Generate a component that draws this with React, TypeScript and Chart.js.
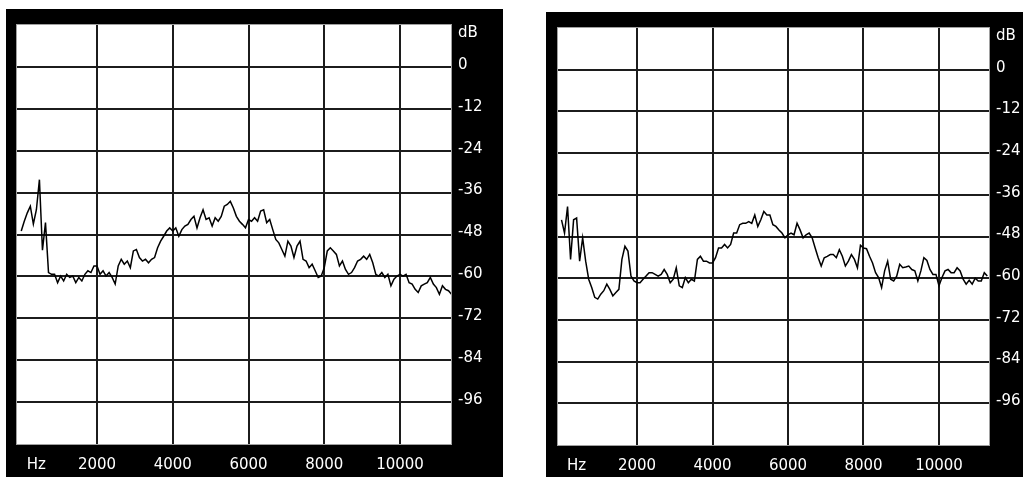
import React, { useEffect, useRef } from 'react';
import { Chart, registerables } from 'chart.js';

Chart.register(...registerables);

// Frequency step between spectrum samples (Hz)
const FREQ_STEP = 80;

// Left spectrum (dB), one value per FREQ_STEP starting at 0 Hz
const leftDb = [
  -47.0, -44.2, -41.8, -39.9, -45.0, -40.9, -32.3, -52.5, -44.6, -58.9,
  -59.4, -59.4, -61.8, -59.9, -61.3, -59.4, -60.3, -59.9, -61.8, -60.3,
  -61.3, -59.4, -58.4, -58.9, -57.0, -57.0, -59.4, -58.4, -59.9, -58.9,
  -60.3, -62.2, -57.0, -55.1, -56.5, -55.6, -57.5, -52.7, -52.3, -54.6,
  -55.6, -55.1, -56.1, -55.1, -54.6, -51.8, -49.9, -48.5, -47.0, -46.1,
  -47.0, -46.1, -48.5, -46.6, -45.6, -45.1, -43.7, -42.8, -46.1, -43.2,
  -40.9, -43.7, -43.2, -45.6, -43.2, -44.2, -42.8, -39.9, -39.4, -38.5,
  -40.4, -42.8, -44.2, -45.1, -46.1, -43.7, -44.2, -43.2, -44.2, -41.3,
  -40.9, -44.6, -43.7, -46.6, -49.4, -50.4, -52.3, -54.2, -49.9, -51.3,
  -54.6, -51.3, -49.9, -55.1, -55.6, -57.5, -56.5, -58.4, -60.3, -59.9,
  -57.5, -52.7, -51.8, -52.7, -53.7, -57.0, -55.6, -58.0, -59.4, -58.9,
  -57.5, -55.6, -55.1, -54.2, -55.1, -53.7, -56.1, -59.4, -59.9, -58.9,
  -60.3, -59.4, -62.7, -60.8, -59.9, -59.4, -59.9, -59.4, -61.8, -62.2,
  -63.7, -64.6, -62.7, -62.2, -61.8, -60.3, -62.2, -63.2, -65.1, -62.7,
  -63.7, -64.1, -65.1,
];

// Right spectrum (dB), one value per FREQ_STEP starting at 0 Hz
const rightDb = [
  -43.2, -47.0, -39.4, -54.6, -43.2, -42.7, -55.1, -48.4, -55.1, -60.3,
  -62.7, -65.5, -66.0, -64.6, -63.6, -61.7, -63.2, -65.1, -64.1, -63.2,
  -54.6, -50.8, -52.2, -59.4, -60.8, -61.3, -61.3, -60.3, -59.4, -58.4,
  -58.4, -58.9, -59.4, -58.9, -57.5, -58.9, -61.3, -60.3, -57.0, -62.2,
  -62.7, -59.8, -61.3, -60.3, -60.8, -54.6, -53.7, -55.1, -55.1, -55.6,
  -55.6, -54.1, -51.3, -51.3, -50.3, -51.3, -50.3, -47.0, -47.0, -44.6,
  -44.2, -44.2, -43.7, -44.2, -41.8, -45.1, -43.2, -40.8, -41.8, -41.8,
  -44.6, -45.1, -46.1, -47.0, -48.4, -47.5, -47.0, -47.5, -44.2, -46.1,
  -48.4, -47.5, -47.0, -48.4, -51.3, -54.1, -56.5, -54.1, -53.7, -53.2,
  -53.2, -54.1, -51.8, -53.7, -56.5, -55.1, -53.2, -54.6, -57.0, -50.5,
  -51.3, -51.5, -53.7, -55.6, -58.4, -59.8, -62.7, -57.9, -55.1, -60.3,
  -60.8, -59.4, -56.0, -57.0, -56.8, -56.5, -57.5, -57.9, -60.8, -57.9,
  -54.1, -54.9, -57.5, -58.9, -58.9, -62.2, -59.8, -57.9, -57.5, -58.4,
  -58.4, -57.0, -57.9, -60.3, -61.7, -60.6, -61.7, -60.0, -60.8, -60.8,
  -58.4, -59.4,
];

// Axis ticks
const xTickValues = [400, 2000, 4000, 6000, 8000, 10000];
const xTickLabels = ['Hz', '2000', '4000', '6000', '8000', '10000'];
const yTickValues = [9, 0, -12, -24, -36, -48, -60, -72, -84, -96];
const yTickLabels = ['dB', '0', '-12', '-24', '-36', '-48', '-60', '-72', '-84', '-96'];
const unitTickValues = [400, 9];

const Y_MIN = -108;
const Y_MAX = 12;

const panelBg = {
  id: 'panelBg',
  beforeDraw(chart: any) {
    const { ctx, chartArea: a, width, height } = chart;
    ctx.save();
    ctx.fillStyle = '#000';
    ctx.fillRect(0, 0, width, height);
    ctx.fillStyle = '#fff';
    ctx.fillRect(a.left, a.top, a.right - a.left, a.bottom - a.top);
    ctx.strokeStyle = '#a0a0a0';
    ctx.lineWidth = 1;
    ctx.strokeRect(a.left - 0.5, a.top - 0.5, a.right - a.left + 1, a.bottom - a.top + 1);
    ctx.restore();
  },
};

type PanelProps = {
  db: number[];
  xMin: number;
  xMax: number;
  left: number;
  top: number;
  width: number;
  height: number;
  padLeft: number;
  padTop: number;
  xAxisH: number;
};

function gridColor(c: any) {
  return c.tick && unitTickValues.includes(c.tick.value) ? 'rgba(0,0,0,0)' : '#1c1c1c';
}

function Panel(p: PanelProps) {
  const ref = useRef<HTMLCanvasElement | null>(null);
  useEffect(() => {
    if (!ref.current) return;
    const font = { family: 'DejaVu Sans', size: 15 };
    const chart = new Chart(ref.current, {
      type: 'line',
      data: {
        datasets: [
          {
            data: p.db.map((v, i) => ({ x: i * FREQ_STEP, y: v })),
            borderColor: '#000',
            borderWidth: 1.5,
            pointRadius: 0,
            tension: 0,
            fill: false,
          },
        ],
      },
      plugins: [panelBg],
      options: {
        responsive: false,
        animation: false,
        devicePixelRatio: 1,
        layout: { padding: { left: p.padLeft, top: p.padTop, right: 0, bottom: 0 } },
        plugins: { legend: { display: false }, tooltip: { enabled: false } },
        scales: {
          x: {
            type: 'linear',
            position: 'bottom',
            min: p.xMin,
            max: p.xMax,
            afterBuildTicks: (s: any) => {
              s.ticks = xTickValues.map((v) => ({ value: v }));
            },
            afterFit: (s: any) => {
              s.height = p.xAxisH;
            },
            grid: { color: gridColor, lineWidth: 2, drawTicks: false },
            border: { display: false },
            ticks: {
              autoSkip: false,
              maxRotation: 0,
              minRotation: 0,
              padding: 12,
              color: '#fff',
              font,
              callback: (_v: any, i: number) => xTickLabels[i],
            },
          },
          y: {
            type: 'linear',
            position: 'right',
            min: Y_MIN,
            max: Y_MAX,
            afterBuildTicks: (s: any) => {
              s.ticks = yTickValues.map((v) => ({ value: v }));
            },
            afterFit: (s: any) => {
              s.width = 52;
            },
            grid: { color: gridColor, lineWidth: 2, drawTicks: false },
            border: { display: false },
            ticks: {
              autoSkip: false,
              padding: 7,
              labelOffset: -2,
              color: '#fff',
              font,
              callback: (_v: any, i: number) => yTickLabels[i],
            },
          },
        },
      } as any,
    });
    return () => chart.destroy();
  }, []);
  return (
    <div style={{ position: 'absolute', left: p.left, top: p.top, width: p.width, height: p.height }}>
      <canvas ref={ref} width={p.width} height={p.height} style={{ display: 'block' }} />
    </div>
  );
}

export default function App() {
  return (
    <div
      style={{
        position: 'fixed',
        left: 0,
        top: 0,
        width: 1023,
        height: 477,
        overflow: 'hidden',
        background: '#fff',
      }}
    >
      <Panel db={leftDb} xMin={-112} xMax={11346} left={6} top={9} width={497} height={468} padLeft={11} padTop={14} xAxisH={33} />
      <Panel db={rightDb} xMin={-93} xMax={11325} left={546} top={12} width={495} height={465} padLeft={12} padTop={12} xAxisH={32} />
    </div>
  );
}
